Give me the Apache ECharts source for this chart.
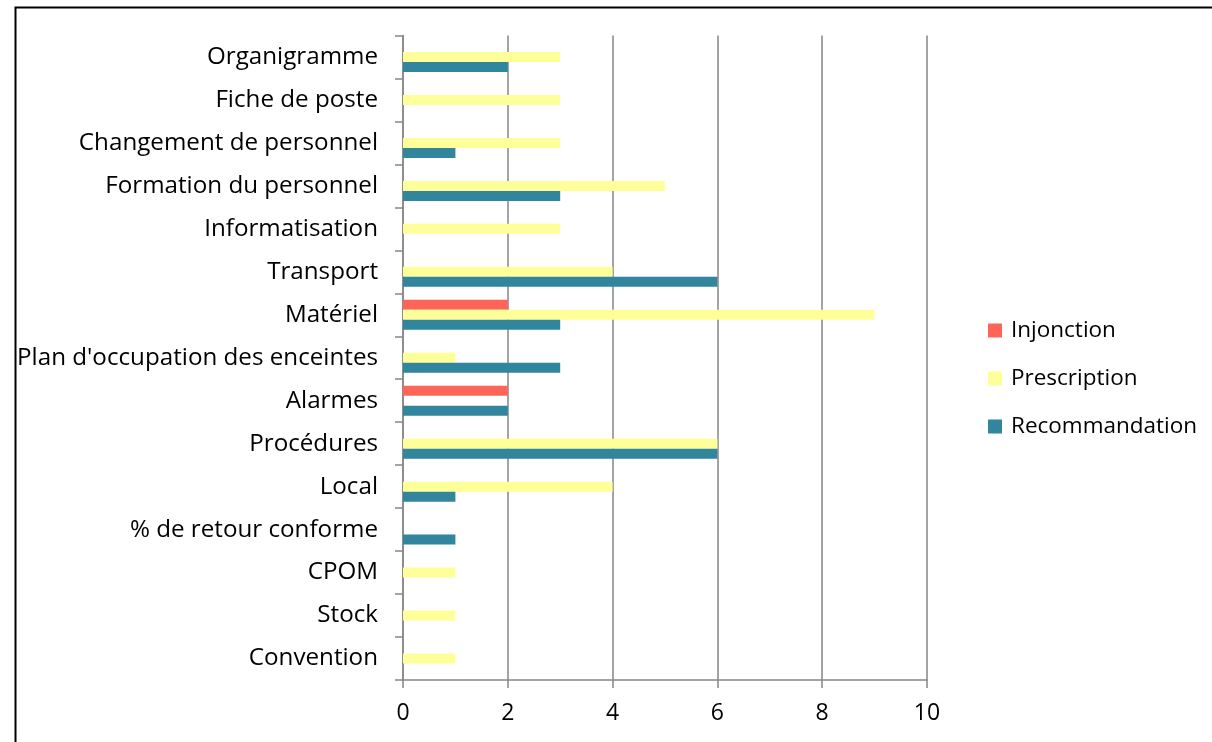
<!DOCTYPE html>
<html><head><meta charset="utf-8">
<script src="https://cdn.jsdelivr.net/npm/echarts@6/dist/echarts.min.js"></script>
<style>html,body{margin:0;padding:0;background:#fff}#c{width:1212px;height:742px}</style>
</head><body><div id="c"></div>
<script>
const categories = ['Convention','Stock','CPOM','% de retour conforme','Local','Procédures','Alarmes',"Plan d'occupation des enceintes",'Matériel','Transport','Informatisation','Formation du personnel','Changement de personnel','Fiche de poste','Organigramme'];
const injonction     = [0,0,0,0,0,0,2,0,2,0,0,0,0,0,0];
const prescription   = [1,1,1,0,4,6,0,1,9,4,3,5,3,3,3];
const recommandation = [0,0,0,1,1,6,2,3,3,6,0,3,1,0,2];
const xTicks = [0,2,4,6,8,10];

const FONT = 'Open Sans';
const chart = echarts.init(document.getElementById('c'), null, {renderer:'canvas'});
chart.setOption({
  animation:false,
  textStyle:{fontFamily:FONT},
  graphic:[{type:'rect',left:13,top:5,shape:{width:1400,height:900},style:{fill:'none',stroke:'#000',lineWidth:2},silent:true}],
  grid:{left:403,right:285,top:35.5,bottom:62,containLabel:false},
  legend:{
    orient:'vertical',left:983,top:314,itemWidth:14,itemHeight:14,itemGap:25,
    data:['Injonction','Prescription','Recommandation'],
    textStyle:{fontFamily:FONT,fontSize:22.5,color:'#000',padding:[0,0,0,4]},
    icon:'rect'
  },
  xAxis:{
    type:'value',min:xTicks[0],max:xTicks[xTicks.length-1],interval:2,
    axisLine:{show:true,lineStyle:{color:'#868686',width:1.5}},
    axisTick:{show:true,length:8,lineStyle:{color:'#868686',width:1.5}},
    splitLine:{show:true,lineStyle:{color:'#868686',width:1.5}},
    axisLabel:{fontFamily:FONT,fontSize:23,color:'#000',margin:22}
  },
  yAxis:{
    type:'category',data:categories,
    axisLine:{show:true,lineStyle:{color:'#868686',width:1.5}},
    axisTick:{show:true,length:8,lineStyle:{color:'#868686',width:1.5}},
    axisLabel:{fontFamily:FONT,fontSize:24.2,color:'#000',margin:25}
  },
  series:[
    {name:'Injonction',type:'bar',data:injonction,barWidth:10,barGap:'0%',itemStyle:{color:'#FF6459'}},
    {name:'Prescription',type:'bar',data:prescription,barWidth:10,barGap:'0%',itemStyle:{color:'#FFFF99'}},
    {name:'Recommandation',type:'bar',data:recommandation,barWidth:10,barGap:'0%',itemStyle:{color:'#31859C'}}
  ]
});
</script></body></html>
